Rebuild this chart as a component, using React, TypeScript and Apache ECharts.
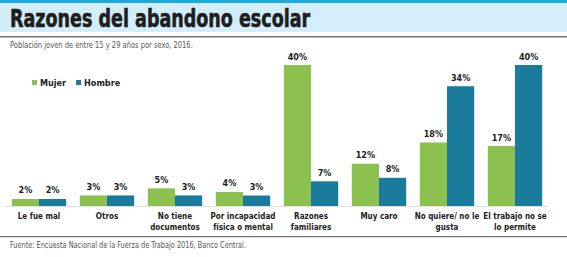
import React, { useEffect, useRef } from "react";
import * as echarts from "echarts";

const categories = [
  "Le fue mal",
  "Otros",
  "No tiene\ndocumentos",
  "Por incapacidad\nfísica o mental",
  "Razones\nfamiliares",
  "Muy caro",
  "No quiere/ no le\ngusta",
  "El trabajo no se\nlo permite",
];
const mujer = [2, 3, 5, 4, 40, 12, 18, 17];
const hombre = [2, 3, 3, 3, 7, 8, 34, 40];

const title = "Razones del abandono escolar";
const subtitle = "Población joven de entre 15 y 29 años por sexo, 2016.";
const source = "Fuente: Encuesta Nacional de la Fuerza de Trabajo 2016, Banco Central.";

const GREEN = "#8cc14f";
const BLUE = "#1a7b9d";
const NARROW = "'Liberation Sans Narrow', 'DejaVu Sans Condensed', Arial, sans-serif";

export default function App() {
  const ref = useRef<HTMLDivElement>(null);
  useEffect(() => {
    if (!ref.current) return;
    const chart = echarts.init(ref.current, null, { renderer: "svg" });
    const labelStyle = {
      show: true,
      position: "top" as const,
      formatter: "{c}%",
      fontFamily: NARROW,
      fontWeight: "bold" as const,
      fontSize: 9,
      color: "#222",
      distance: 4,
    };
    chart.setOption({
      animation: false,
      backgroundColor: "#fff",
      graphic: [
        { type: "rect", shape: { x: 0, y: 0, width: 567, height: 3 }, style: { fill: "#1aa9e1" } },
        { type: "rect", shape: { x: 0, y: 3, width: 567, height: 29 }, style: { fill: "#d3eefa" } },
        { type: "rect", shape: { x: 0, y: 36, width: 567, height: 1.5 }, style: { fill: "#777" } },
        {
          type: "text",
          x: 10,
          y: 6,
          scaleX: 0.78,
          style: {
            text: title,
            fontFamily: NARROW,
            fontWeight: "bold",
            fontSize: 25,
            fill: "#1e1e1e",
            stroke: "#1e1e1e",
            lineWidth: 0.6,
          },
        },
        {
          type: "text",
          x: 10,
          y: 40,
          scaleX: 0.83,
          style: { text: subtitle, fontFamily: NARROW, fontSize: 9, fill: "#555" },
        },
        { type: "rect", shape: { x: 0, y: 236, width: 567, height: 1.2 }, style: { fill: "#777" } },
        {
          type: "text",
          x: 10,
          y: 240,
          scaleX: 0.81,
          style: { text: source, fontFamily: NARROW, fontSize: 9, fill: "#555" },
        },
      ],
      legend: {
        left: 27,
        top: 73,
        itemWidth: 5,
        itemHeight: 5,
        itemGap: 10,
        icon: "rect",
        textStyle: { fontFamily: NARROW, fontWeight: "bold", fontSize: 9, color: "#222", padding: [0, 0, 0, -2] },
        data: ["Mujer", "Hombre"],
      },
      grid: { left: 5, right: 18, top: 65, bottom: 51, containLabel: false },
      xAxis: {
        type: "category",
        data: categories,
        axisLine: { show: true, lineStyle: { color: "#e2e2e2", width: 1 } },
        axisTick: { show: false },
        axisLabel: {
          interval: 0,
          fontFamily: NARROW,
          fontWeight: "bold",
          fontSize: 8,
          color: "#222",
          lineHeight: 11,
          margin: 5,
        },
      },
      yAxis: {
        type: "value",
        min: 0,
        max: 40,
        show: false,
        splitLine: { show: false },
      },
      series: [
        {
          name: "Mujer",
          type: "bar",
          data: mujer,
          itemStyle: { color: GREEN },
          barGap: "0%",
          barCategoryGap: "20%",
          label: labelStyle,
        },
        {
          name: "Hombre",
          type: "bar",
          data: hombre,
          itemStyle: { color: BLUE },
          barGap: "0%",
          barCategoryGap: "20%",
          label: labelStyle,
        },
      ],
    });
    return () => chart.dispose();
  }, []);
  return (
    <div
      ref={ref}
      style={{ position: "fixed", left: 0, top: 0, width: 567, height: 257 }}
    />
  );
}
